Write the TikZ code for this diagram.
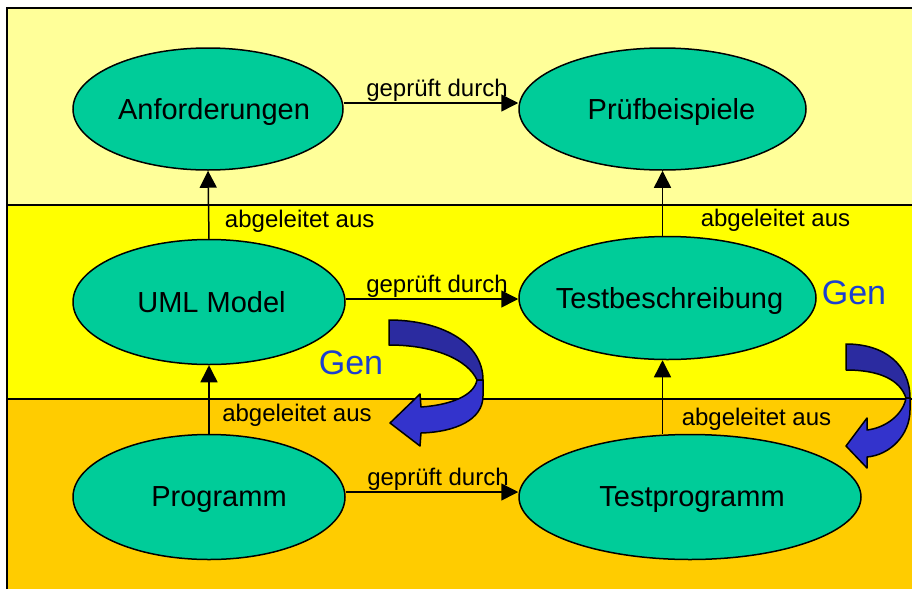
\documentclass[tikz,border=0pt]{standalone}
\usepackage{fontspec}
\setmainfont{Liberation Sans}
\usetikzlibrary{shapes.geometric,arrows.meta}

\definecolor{bandtop}{HTML}{FFFF99}
\definecolor{bandmid}{HTML}{FFFF00}
\definecolor{bandlow}{HTML}{FFCC00}
\definecolor{bubble}{HTML}{00CC99}
\definecolor{gendark}{HTML}{2B2BA0}
\definecolor{genlight}{HTML}{3333CC}
\definecolor{gentext}{HTML}{1C3FD0}

% zero-width caption, moved right by half of the first argument
\newcommand\capt[2]{\makebox[0pt]{\hspace*{#1pt}#2}}

\begin{document}
\begin{tikzpicture}[x=1pt,y=-1pt,
  artefact/.style={ellipse,draw=black,line width=1.5pt,fill=bubble,inner sep=0pt,
    text depth=0pt,font=\fontsize{29}{29}\selectfont},
  rel/.style={-{Triangle[length=17pt,width=17pt]},line width=1.5pt},
  rellabel/.style={font=\fontsize{24}{24}\selectfont,inner sep=0.5pt},
  genlabel/.style={text=gentext,font=\fontsize{34}{34}\selectfont,inner sep=0pt},
  genband/.style={draw=black,line width=1.5pt,line join=round}]

\useasboundingbox (0,0) rectangle (912,589);

% three layers
\fill[bandtop] (7,8) rectangle (912,204.5);
\fill[bandmid] (7,204.5) rectangle (912,399);
\fill[bandlow] (7,399) rectangle (912,589);
\draw[line width=2pt] (7,204.5) -- (912,204.5);
\draw[line width=2pt] (7,399) -- (912,399);
\draw[line width=2.5pt] (7,589) -- (7,8) -- (912,8);

% artefacts
\node[artefact,minimum width=270,minimum height=122] (anf)   at (208,109)   {\capt{12}{Anforderungen}};
\node[artefact,minimum width=287,minimum height=122] (pruef) at (662.5,109) {\capt{18}{Prüfbeispiele}};
\node[artefact,minimum width=272,minimum height=125] (uml)   at (209,302)   {\capt{5}{UML Model}};
\node[artefact,minimum width=297,minimum height=123] (tb)    at (667.5,298) {\capt{4}{Testbeschreibung}};
\node[artefact,minimum width=272,minimum height=125] (prog)  at (209,497)   {\capt{20}{Programm}};
\node[artefact,minimum width=342,minimum height=125] (tp)    at (690,497)   {\capt{4}{Testprogramm}};

% checked-by relations
\draw[rel] ([yshift=6pt]anf.east) -- ([yshift=6pt]pruef.west)
  node[rellabel,midway,above,xshift=6pt] {geprüft durch};
\draw[rel] ([yshift=3pt]uml.east) -- ([yshift=-1pt]tb.west)
  node[rellabel,midway,above,xshift=5pt] {geprüft durch};
\draw[rel] ([yshift=5pt]prog.east) -- ([yshift=5pt]tp.west)
  node[rellabel,midway,above,xshift=6pt] {geprüft durch};

% derived-from relations
\draw[rel] (uml.north) -- (anf.south)
  node[rellabel,pos=0.26,right,xshift=15pt] {abgeleitet aus};
\draw[rel] (prog.north) -- (uml.south)
  node[rellabel,pos=0.27,right,xshift=12pt] {abgeleitet aus};
\draw[rel] (pruef.south |- tb.north) -- (pruef.south)
  node[rellabel,pos=0.24,right,xshift=37pt] {abgeleitet aus};
\draw[rel] (pruef.south |- tp.north) -- (pruef.south |- tb.south)
  node[rellabel,pos=0.2,right,xshift=18pt] {abgeleitet aus};

% generation arrows
\draw[genband,fill=gendark] (389,320) .. controls (440,320) and (483,342) .. (483,380)
  -- (477,380) .. controls (468,360) and (435,345) .. (389,345) -- cycle;
\draw[genband,fill=genlight] (483,380) -- (483,396) .. controls (483,420) and (455,432) .. (421,433)
  -- (420,446) -- (390,423) -- (420,394) -- (421,407)
  .. controls (450,405) and (474,396) .. (477,380) -- cycle;
\node[genlabel] (gen1) at (351,363) {Gen};

\draw[genband,fill=gendark] (846,344) .. controls (885,344) and (910,365) .. (910,398)
  -- (906,398) .. controls (900,380) and (880,370) .. (846,370) -- cycle;
\draw[genband,fill=genlight] (910,398) -- (910,410) .. controls (910,435) and (890,455) .. (867,457)
  -- (867,468) -- (846,446) -- (867,418) -- (867,430)
  .. controls (885,428) and (903,415) .. (906,398) -- cycle;
\node[genlabel] (gen2) at (854,293) {Gen};

\end{tikzpicture}
\end{document}
